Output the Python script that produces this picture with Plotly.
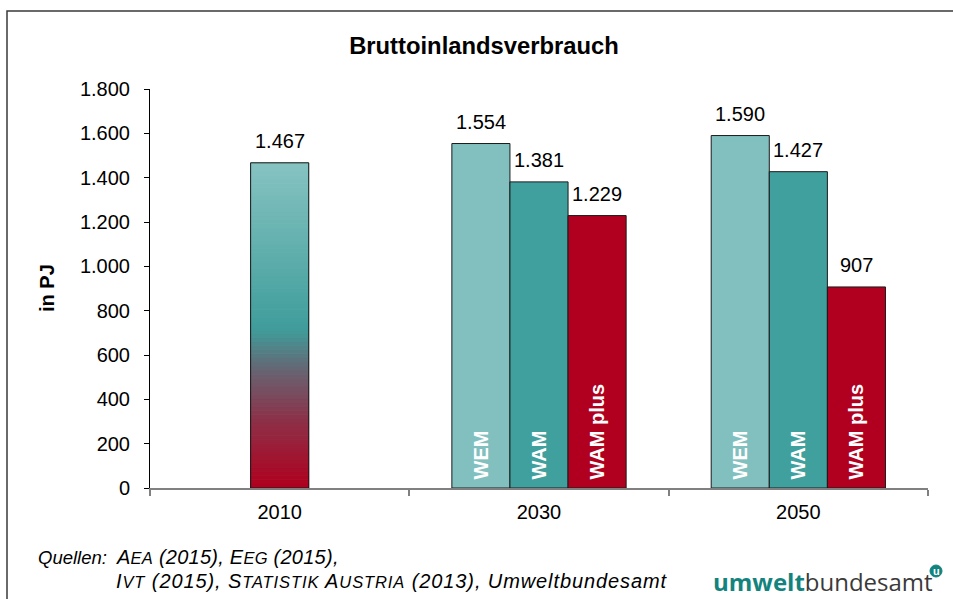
import plotly.graph_objects as go

# ---------------- data ----------------
years = ["2010", "2030", "2050"]
base_year = ["2010"]
base_value = [1467]
scen_years = ["2030", "2050"]
wem = [1554, 1590]
wam = [1381, 1427]
wam_plus = [1229, 907]
scenario_names = ["WEM", "WAM", "WAM plus"]
y_ticks = [0, 200, 400, 600, 800, 1000, 1200, 1400, 1600, 1800]

# ---------------- style ----------------
C_WEM = "#82C0BF"
C_WAM = "#40A09D"
C_WAMP = "#B1001F"
TEAL_LOGO = "#13837E"
FONT = "Liberation Sans, Arial, sans-serif"
BW = 0.224  # bar width in category units

# plot area in pixels
W, H = 953, 599
L, R, T, B = 150, 25, 89, 111
PW, PH = W - L - R, H - T - B


def px_x(px):
    return (px - L) / PW


def px_y(py):
    return (H - B - py) / PH


# gradient stops for the 2010 bar (fraction of height, rgb)
stops = [(0.0, (176, 0, 30)), (0.2, (142, 46, 70)), (0.35, (106, 95, 110)),
         (0.49, (63, 157, 155)), (1.0, (134, 195, 193))]


def grad(f):
    for (f0, c0), (f1, c1) in zip(stops[:-1], stops[1:]):
        if f0 <= f <= f1:
            t = (f - f0) / (f1 - f0)
            return "rgb(%d,%d,%d)" % tuple(round(a + (b - a) * t) for a, b in zip(c0, c1))
    return "rgb(%d,%d,%d)" % stops[-1][1]


fig = go.Figure()

# 2010 gradient bar built from thin slices of the single value
N = 80
v = base_value[0]
seg_cols = [grad((i + 0.5) / N) for i in range(N)]
fig.add_trace(go.Bar(
    x=base_year * N, y=[v / N] * N, base=[v * i / N for i in range(N)],
    width=BW, offset=-BW / 2,
    marker=dict(color=seg_cols, line=dict(color=seg_cols, width=1)),
    hoverinfo="skip", showlegend=False))
fig.add_trace(go.Bar(
    x=base_year, y=base_value, width=BW, offset=-BW / 2,
    marker=dict(color="rgba(0,0,0,0)", line=dict(color="#1a1a1a", width=1)),
    showlegend=False))

offsets = [-1.5 * BW, -0.5 * BW, 0.5 * BW]
for vals, col, name, off in zip([wem, wam, wam_plus], [C_WEM, C_WAM, C_WAMP],
                                scenario_names, offsets):
    fig.add_trace(go.Bar(
        x=scen_years, y=vals, width=BW, offset=off, name=name,
        marker=dict(color=col, line=dict(color="#1a1a1a", width=1)),
        text=["\u00a0" + name] * len(vals), textposition="inside", insidetextanchor="start",
        textangle=-90, textfont=dict(family=FONT, size=20, color="white", weight="bold"),
        showlegend=False))

# value labels
ann = []
for i, y in enumerate(base_year):
    ann.append(dict(x=years.index(y), y=base_value[i], text=f"{base_value[i]:,}".replace(",", ".")))
for vals, off in zip([wem, wam, wam_plus], offsets):
    for y, val in zip(scen_years, vals):
        ann.append(dict(x=years.index(y) + off + BW / 2, y=val, text=f"{val:,}".replace(",", ".")))
for a in ann:
    a.update(xref="x", yref="y", showarrow=False, yanchor="bottom", yshift=9,
             font=dict(family=FONT, size=20, color="black"))

sc = "font-size:16.5px"
src1 = (f"<span style='letter-spacing:0.25px'><i>A<span style='{sc}'>EA</span> (2015), "
        f"E<span style='{sc}'>EG</span> (2015),</i></span>")
src2 = (f"<span style='letter-spacing:0.9px'><i>I<span style='{sc}'>VT</span> (2015), "
        f"S<span style='{sc}'>TATISTIK</span> A<span style='{sc}'>USTRIA</span> (2013), "
        f"Umweltbundesamt</i></span>")
ann += [
    dict(xref="paper", yref="paper", x=px_x(47), y=px_y(288), xanchor="center", yanchor="middle",
         text="<b>in PJ</b>", textangle=-90, showarrow=False,
         font=dict(family=FONT, size=20, color="black")),
    dict(xref="paper", yref="paper", x=px_x(36), y=px_y(557), xanchor="left", yanchor="middle",
         text="<i>Quellen:</i>", showarrow=False, font=dict(family=FONT, size=18.5, color="black")),
    dict(xref="paper", yref="paper", x=px_x(114), y=px_y(557), xanchor="left", yanchor="middle",
         text=src1, showarrow=False, font=dict(family=FONT, size=20, color="black")),
    dict(xref="paper", yref="paper", x=px_x(114), y=px_y(581), xanchor="left", yanchor="middle",
         text=src2, showarrow=False, font=dict(family=FONT, size=20, color="black")),
    dict(xref="paper", yref="paper", x=px_x(711), y=px_y(581), xanchor="left", yanchor="middle",
         text=f"<b><span style='color:{TEAL_LOGO}'>umwelt</span></b>"
              "<span style='color:#3a3a3a'>bundesamt</span>",
         showarrow=False, font=dict(family="Open Sans, sans-serif", size=24)),
    dict(xref="paper", yref="paper", x=px_x(936), y=px_y(571), xanchor="center", yanchor="middle",
         text="<b>u</b>", showarrow=False, font=dict(family=FONT, size=11, color="white")),
]

fig.update_layout(
    width=W, height=H, margin=dict(l=L, r=R, t=T, b=B),
    paper_bgcolor="white", plot_bgcolor="white",
    barmode="overlay", separators=",.",
    title=dict(text="<b>Bruttoinlandsverbrauch</b>", x=484 / W, xref="container",
               y=1 - 46 / H, yref="container", yanchor="middle", xanchor="center",
               font=dict(family=FONT, size=23.8, color="black")),
    xaxis=dict(type="category", categoryorder="array", categoryarray=years,
               range=[-0.5, 2.5], tickson="boundaries", ticks="outside", ticklen=6,
               tickcolor="#808080", tickwidth=2, showline=True, linecolor="#808080",
               linewidth=2, showgrid=False, ticklabelstandoff=5,
               tickfont=dict(family=FONT, size=20, color="black")),
    yaxis=dict(range=[0, 1800], tickvals=y_ticks, tickformat=",d", ticks="outside",
               ticklen=5, tickcolor="black", showline=True, linecolor="black", linewidth=1,
               showgrid=False, zeroline=False, ticklabelstandoff=10,
               tickfont=dict(family=FONT, size=20, color="black")),
    annotations=ann,
    shapes=[
        dict(type="rect", xref="paper", yref="paper",
             x0=px_x(7), x1=px_x(970), y0=px_y(620), y1=px_y(11),
             line=dict(color="#3a3a3a", width=1.5), fillcolor="rgba(0,0,0,0)", layer="below"),
        dict(type="circle", xref="paper", yref="paper",
             x0=px_x(930), x1=px_x(942), y0=px_y(577), y1=px_y(565),
             line=dict(color=TEAL_LOGO, width=1), fillcolor=TEAL_LOGO),
    ],
)

fig.write_html("out.html", config={"displayModeBar": False},
               post_script="document.body.style.margin='0';")
